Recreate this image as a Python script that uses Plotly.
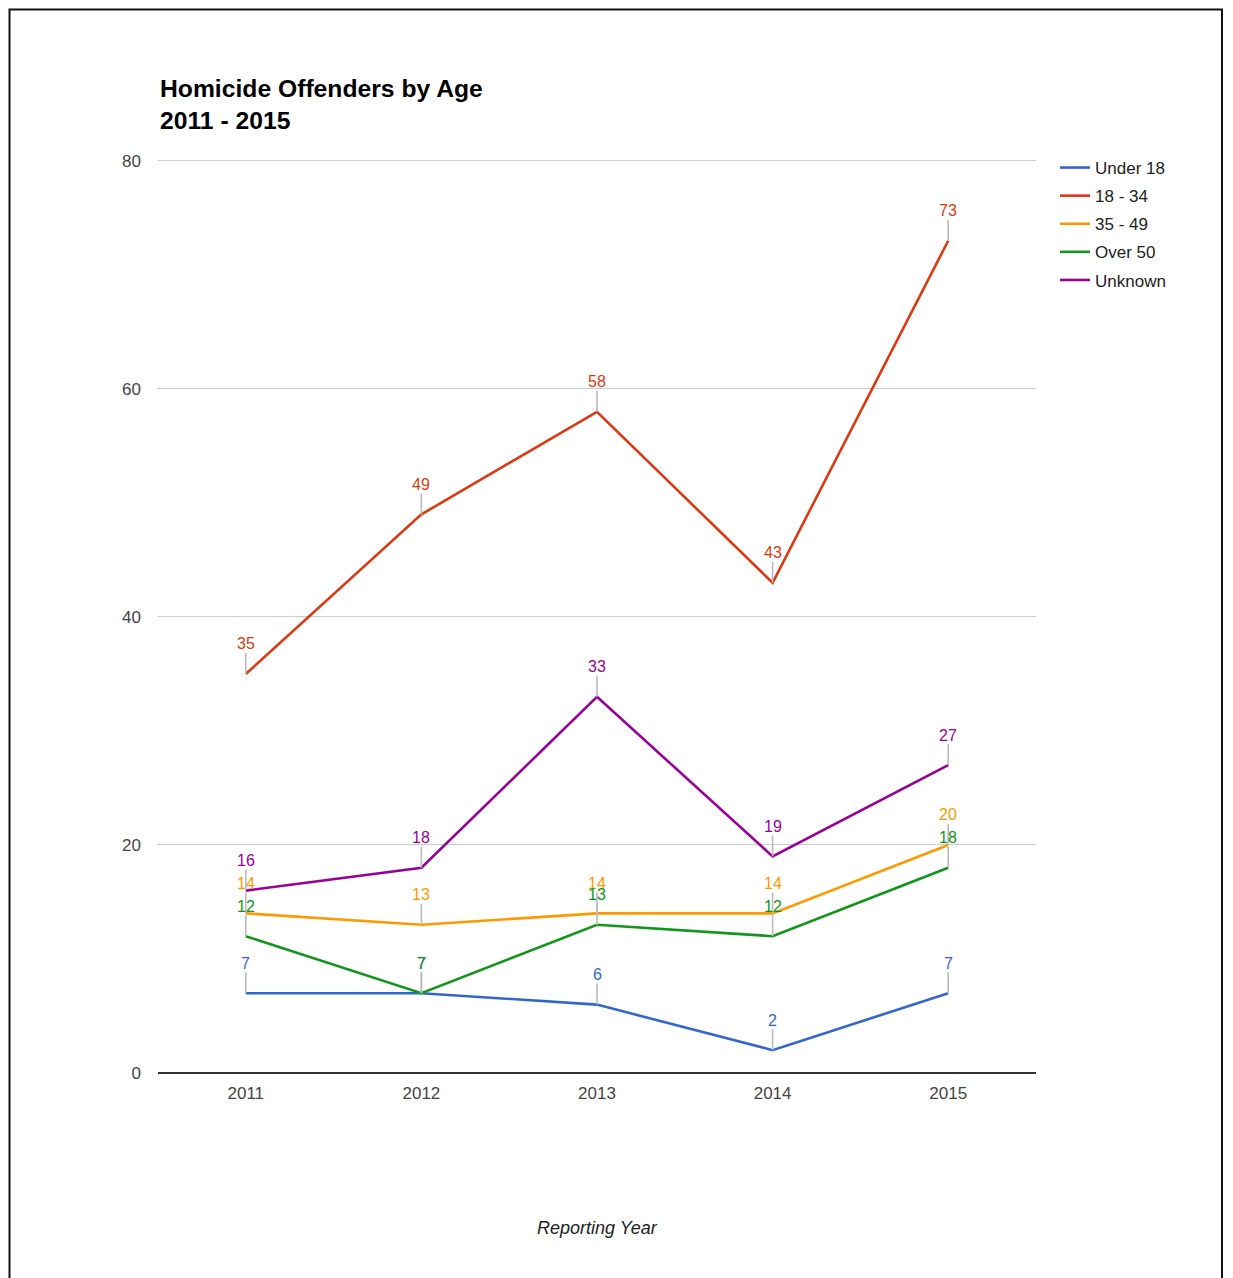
import plotly.graph_objects as go

years = ["2011", "2012", "2013", "2014", "2015"]
series_names = ["Under 18", "18 - 34", "35 - 49", "Over 50", "Unknown"]
under_18 = [7, 7, 6, 2, 7]
age_18_34 = [35, 49, 58, 43, 73]
age_35_49 = [14, 13, 14, 14, 20]
over_50 = [12, 7, 13, 12, 18]
unknown = [16, 18, 33, 19, 27]
colors = ["#3366cc", "#dc3912", "#ff9900", "#109618", "#990099"]
y_ticks = [0, 20, 40, 60, 80]

values = [under_18, age_18_34, age_35_49, over_50, unknown]

FONT = "Liberation Sans, Arial, sans-serif"
OFF = 8  # page body margin
W, H = 1233 - OFF, 1278 - OFF
L, T = 158 - OFF, 158 - OFF
R = W - (1036 - OFF)
B = H - (1073 - OFF)
pw, ph = W - L - R, H - T - B


def px_x(p):
    return (p - OFF - L) / pw


def px_y(p):
    return (T + ph - (p - OFF)) / ph


fig = go.Figure()
for name, vals, c in zip(series_names, values, colors):
    fig.add_trace(go.Scatter(x=years, y=vals, mode="lines", name=name,
                             legendgroup=name,
                             line=dict(color=c, width=2.6)))

annotations = []
for name, vals, c in zip(series_names, values, colors):
    for i, v in enumerate(vals):
        annotations.append(dict(
            x=i, y=v, xref="x", yref="y", text=str(v), showarrow=True,
            arrowhead=0, arrowwidth=1.6, arrowcolor="#bbbbbb",
            ax=0, ay=-30, standoff=0,
            font=dict(family=FONT, size=16, color=c), borderpad=0))

annotations.append(dict(
    x=0.5, y=px_y(1228), xref="paper", yref="paper",
    text="<i>Reporting Year</i>", showarrow=False,
    font=dict(family=FONT, size=18, color="#222222"),
    xanchor="center", yanchor="middle"))

annotations.append(dict(
    x=0, y=px_y(104), xref="paper", yref="paper",
    text="<b>Homicide Offenders by Age<br>2011 - 2015</b>", showarrow=False,
    font=dict(family=FONT, size=24.7, color="#000000"), align="left",
    xanchor="left", yanchor="middle"))

shapes = [dict(type="rect", xref="paper", yref="paper",
               x0=px_x(9.5), x1=px_x(1222), y0=px_y(1300), y1=px_y(9.5),
               line=dict(color="#111111", width=2), fillcolor="rgba(0,0,0,0)",
               layer="below")]

fig.update_layout(
    width=W, height=H,
    margin=dict(l=L, r=R, t=T, b=B, pad=0),
    paper_bgcolor="white", plot_bgcolor="white",
    font=dict(family=FONT, size=15, color="#444444"),
    showlegend=True,
    legend=dict(x=px_x(1055), y=px_y(150), xanchor="left", yanchor="top",
                font=dict(family=FONT, size=17, color="#222222"),
                bgcolor="rgba(0,0,0,0)", tracegroupgap=3, itemwidth=30),
    xaxis=dict(type="category", range=[-0.5, 4.5], showgrid=False,
               showline=False, zeroline=False, ticks="",
               tickfont=dict(family=FONT, size=17, color="#444444"),
               ticklabelstandoff=8),
    yaxis=dict(range=[0, 80.26], tickvals=y_ticks, showgrid=True,
               gridcolor="#cccccc", gridwidth=1, zeroline=True,
               zerolinecolor="#333333", zerolinewidth=1.5,
               showline=False, ticks="",
               tickfont=dict(family=FONT, size=17, color="#444444"),
               ticklabelstandoff=16),
    annotations=annotations,
    shapes=shapes,
)

fig.write_html("out.html")
